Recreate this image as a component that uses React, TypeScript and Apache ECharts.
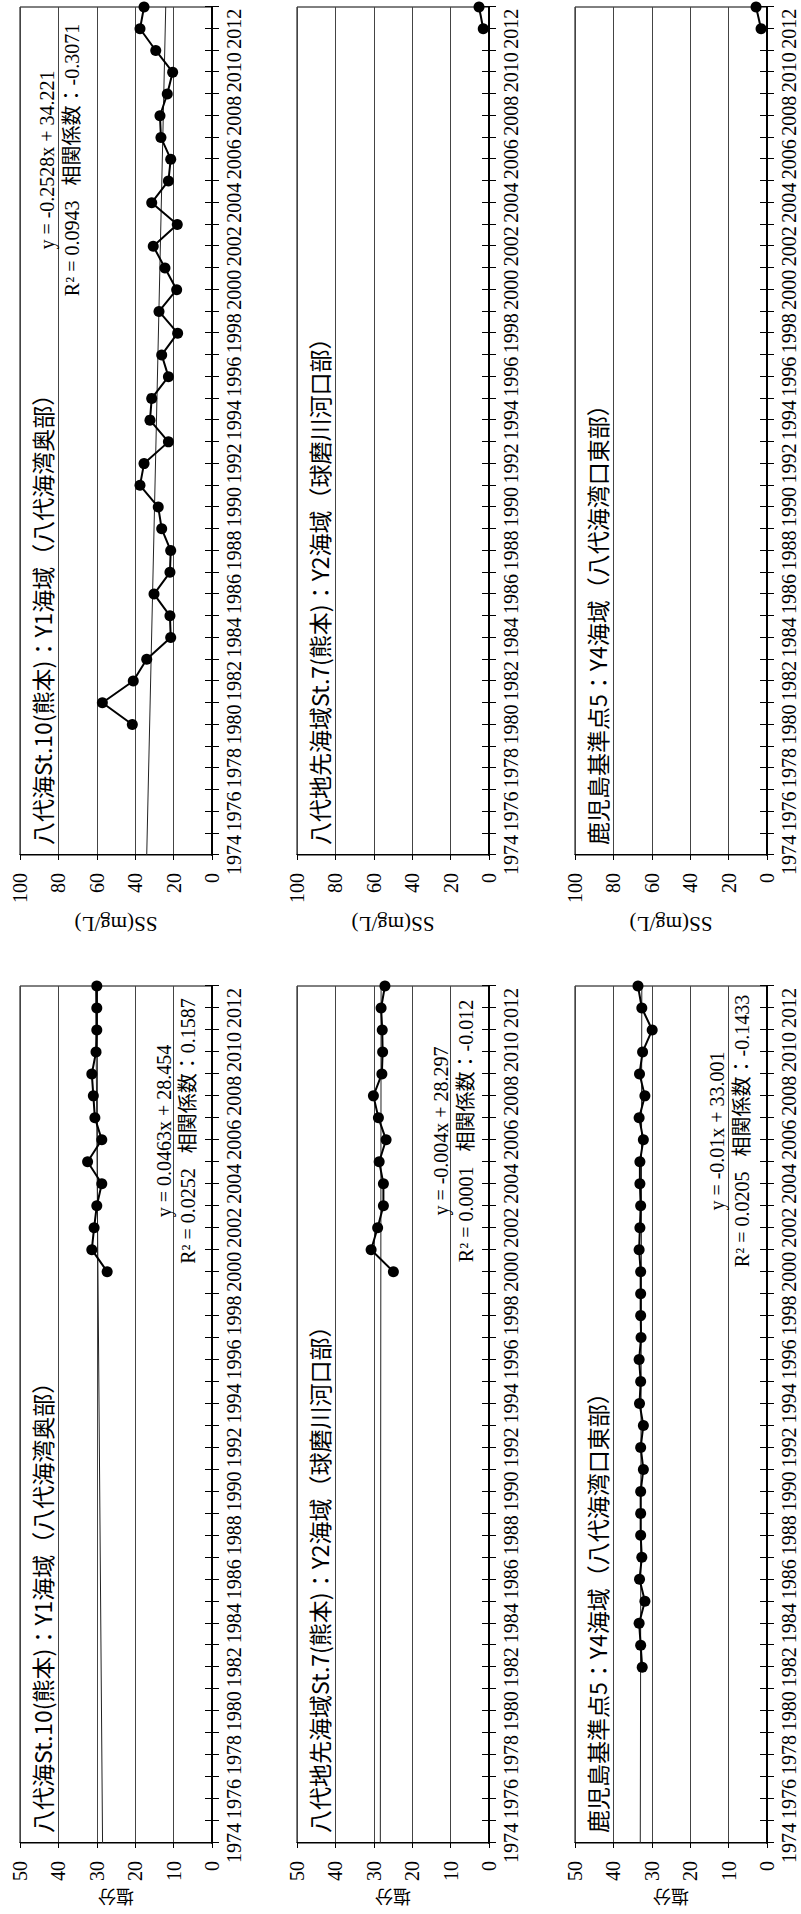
import React, { useEffect, useRef } from "react";
import * as echarts from "echarts";

// ---- data ----
const salYears1 = [2000, 2001, 2002, 2003, 2004, 2005, 2006, 2007, 2008, 2009, 2010, 2011, 2012, 2013];
const salValues1 = [27.3, 31.3, 30.7, 30.0, 28.7, 32.4, 28.7, 30.5, 30.9, 31.3, 30.2, 30.0, 30.0, 30.0];

const salYears2 = [2000, 2001, 2002, 2003, 2004, 2005, 2006, 2007, 2008, 2009, 2010, 2011, 2012, 2013];
const salValues2 = [24.9, 30.7, 29.0, 27.5, 27.5, 28.6, 26.8, 28.8, 30.1, 27.9, 27.7, 27.8, 28.1, 27.1];

const salYears3 = [1982, 1983, 1984, 1985, 1986, 1987, 1988, 1989, 1990, 1991, 1992, 1993, 1994, 1995, 1996, 1997,
  1998, 1999, 2000, 2001, 2002, 2003, 2004, 2005, 2006, 2007, 2008, 2009, 2010, 2011, 2012, 2013];
const salValues3 = [32.5, 32.9, 33.3, 31.8, 33.2, 32.6, 32.9, 32.9, 32.9, 32.2, 32.9, 32.2, 33.2, 32.9, 33.3, 32.8,
  32.9, 32.9, 32.9, 33.3, 33.1, 32.9, 33.1, 33.1, 32.2, 33.3, 31.8, 33.2, 32.4, 29.9, 32.6, 33.6];

const ssYears1 = [1980, 1981, 1982, 1983, 1984, 1985, 1986, 1987, 1988, 1989, 1990, 1991, 1992, 1993, 1994, 1995, 1996,
  1997, 1998, 1999, 2000, 2001, 2002, 2003, 2004, 2005, 2006, 2007, 2008, 2009, 2010, 2011, 2012, 2013];
const ssValues1 = [41.5, 57.1, 41.0, 34.0, 21.5, 21.9, 30.2, 21.9, 21.5, 26.2, 28.0, 37.5, 35.4, 22.7, 32.3, 31.4, 22.7,
  26.2, 17.9, 27.6, 18.4, 24.5, 30.6, 18.1, 31.4, 22.7, 21.5, 26.6, 27.1, 23.3, 20.5, 29.3, 37.5, 35.4];

const ssYears2 = [2012, 2013];
const ssValues2 = [3.0, 5.2];
const ssYears3 = [2012, 2013];
const ssValues3 = [3.1, 5.7];

// trend line end values (at 1974 and 2013)
const trendEnds = [1974, 2013];
const salTrend1 = [28.5, 30.3];
const salTrend2 = [28.3, 28.1];
const salTrend3 = [33.0, 32.6];
const ssTrend1 = [34.0, 24.1];

const stationTitles = [
  "八代海St.10(熊本)：Y1海域（八代海湾奥部）",
  "八代地先海域St.7(熊本)：Y2海域（球磨川河口部）",
  "鹿児島基準点5：Y4海域（八代海湾口東部）",
];

const salEquations = [
  ["y = 0.0463x + 28.454", "R² = 0.0252   相関係数：0.1587"],
  ["y = -0.004x + 28.297", "R² = 0.0001   相関係数：-0.012"],
  ["y = -0.01x + 33.001", "R² = 0.0205   相関係数：-0.1433"],
];
const ssEquation1 = ["y = -0.2528x + 34.221", "R² = 0.0943   相関係数：-0.3071"];

const salAxisName = "塩分";
const ssAxisName = "SS(mg/L)";

// ---- layout ----
const W = 1914;
const H = 801;
const rowTops = [20, 297, 575];
const rowH = 192;
const salLeft = 71;
const salWidth = 857;
const ssLeft = 1059;
const ssWidth = 848;

const serif = "'Liberation Serif', 'Times New Roman', serif";
const cjk = "'Noto Sans CJK JP', 'Noto Sans CJK SC', sans-serif";
const mixed = "'Liberation Serif', 'Noto Sans CJK JP', serif";

function pairs(xs: number[], ys: number[]) {
  return xs.map((x, i) => [x, ys[i]]);
}

function buildOption() {
  const grids: any[] = [];
  const xAxes: any[] = [];
  const yAxes: any[] = [];
  const series: any[] = [];
  const graphics: any[] = [];

  const salData = [pairs(salYears1, salValues1), pairs(salYears2, salValues2), pairs(salYears3, salValues3)];
  const salTrends = [salTrend1, salTrend2, salTrend3];
  const ssData = [pairs(ssYears1, ssValues1), pairs(ssYears2, ssValues2), pairs(ssYears3, ssValues3)];
  const ssTrends: (number[] | null)[] = [ssTrend1, null, null];

  const addPanel = (
    left: number,
    width: number,
    top: number,
    yMax: number,
    yInterval: number,
    data: number[][],
    trend: number[] | null,
    title: string
  ) => {
    const g = grids.length;
    grids.push({ left, top, width, height: rowH, show: true, borderColor: "#000", borderWidth: 1, backgroundColor: "#fff" });
    xAxes.push({
      type: "value",
      gridIndex: g,
      min: 1974,
      max: 2013,
      interval: 1,
      position: "bottom",
      axisLine: { show: true, onZero: false, lineStyle: { color: "#000", width: 2 } },
      axisTick: { show: true, length: 7, lineStyle: { color: "#000", width: 1 } },
      axisLabel: {
        formatter: (v: number) => (v % 2 === 0 ? String(v) : ""),
        fontSize: 20,
        fontFamily: serif,
        color: "#000",
        margin: 12,
      },
      splitLine: { show: false },
    });
    xAxes.push({
      type: "value",
      gridIndex: g,
      min: 1974,
      max: 2013,
      interval: 1,
      position: "bottom",
      axisLine: { show: false, onZero: false },
      axisTick: { show: true, inside: true, length: 7, lineStyle: { color: "#000", width: 1 } },
      axisLabel: { show: false },
      splitLine: { show: false },
    });
    yAxes.push({
      type: "value",
      gridIndex: g,
      min: 0,
      max: yMax,
      interval: yInterval,
      axisLine: { show: true, lineStyle: { color: "#000", width: 1 } },
      axisTick: { show: true, length: 5, lineStyle: { color: "#000" } },
      axisLabel: { fontSize: 20, fontFamily: serif, color: "#000", margin: 18 },
      splitLine: { show: true, lineStyle: { color: "#444", width: 1 } },
    });
    if (trend) {
      series.push({
        type: "line",
        xAxisIndex: g * 2,
        yAxisIndex: g,
        data: [
          [trendEnds[0], trend[0]],
          [trendEnds[1], trend[1]],
        ],
        symbol: "none",
        lineStyle: { color: "#222", width: 1 },
        z: 2,
        silent: true,
      });
    }
    series.push({
      type: "line",
      xAxisIndex: g * 2,
      yAxisIndex: g,
      data,
      symbol: "circle",
      symbolSize: 11,
      itemStyle: { color: "#000" },
      lineStyle: { color: "#000", width: 2 },
      z: 3,
    });
    graphics.push({
      type: "text",
      x: left + 10,
      y: top + 10,
      z: 10,
      style: {
        text: title,
        font: `23px ${cjk}`,
        fill: "#000",
        textAlign: "left",
        textVerticalAlign: "top",
        align: "left",
        verticalAlign: "top",
      },
    });
  };

  for (let r = 0; r < 3; r++) {
    addPanel(salLeft, salWidth, rowTops[r], 50, 10, salData[r], salTrends[r], stationTitles[r]);
  }
  for (let r = 0; r < 3; r++) {
    addPanel(ssLeft, ssWidth, rowTops[r], 100, 20, ssData[r], ssTrends[r], stationTitles[r]);
  }

  const rotText = (cx: number, cy: number, text: string, font: string) => ({
    type: "text",
    x: cx,
    y: cy,
    rotation: Math.PI / 2,
    z: 10,
    style: {
      text,
      font,
      fill: "#000",
      textAlign: "center",
      textVerticalAlign: "middle",
      align: "center",
      verticalAlign: "middle",
    },
  });
  for (let r = 0; r < 3; r++) {
    graphics.push(rotText(16, rowTops[r] + rowH / 2, salAxisName, `18px ${cjk}`));
    graphics.push(rotText(990, rowTops[r] + rowH / 2, ssAxisName, `21px ${serif}`));
  }

  const eqText = (cx: number, cy: number, text: string) => ({
    type: "text",
    x: cx,
    y: cy,
    z: 10,
    style: {
      text,
      font: `20px ${mixed}`,
      fill: "#000",
      textAlign: "center",
      textVerticalAlign: "middle",
      align: "center",
      verticalAlign: "middle",
    },
  });

  const salEqY = [
    [164, 188],
    [441, 466],
    [717, 742],
  ];
  for (let r = 0; r < 3; r++) {
    graphics.push(eqText(783, salEqY[r][0], salEquations[r][0]));
    graphics.push(eqText(783, salEqY[r][1], salEquations[r][1]));
  }
  graphics.push(eqText(1754, 47, ssEquation1[0]));
  graphics.push(eqText(1754, 72, ssEquation1[1]));

  return {
    animation: false,
    backgroundColor: "#fff",
    grid: grids,
    xAxis: xAxes,
    yAxis: yAxes,
    series,
    graphic: graphics,
  };
}

export default function App() {
  const ref = useRef<HTMLDivElement>(null);
  useEffect(() => {
    if (!ref.current) return;
    const chart = echarts.init(ref.current, undefined, { renderer: "svg" });
    chart.setOption(buildOption() as any);
    return () => chart.dispose();
  }, []);
  return (
    <div
      style={{
        position: "absolute",
        left: 0,
        top: 0,
        width: H,
        height: W,
        overflow: "hidden",
        background: "#fff",
      }}
    >
      <div
        ref={ref}
        style={{
          position: "absolute",
          left: 0,
          top: 0,
          width: W,
          height: H,
          transformOrigin: "0 0",
          transform: `translate(0px, ${W}px) rotate(-90deg)`,
        }}
      />
    </div>
  );
}
